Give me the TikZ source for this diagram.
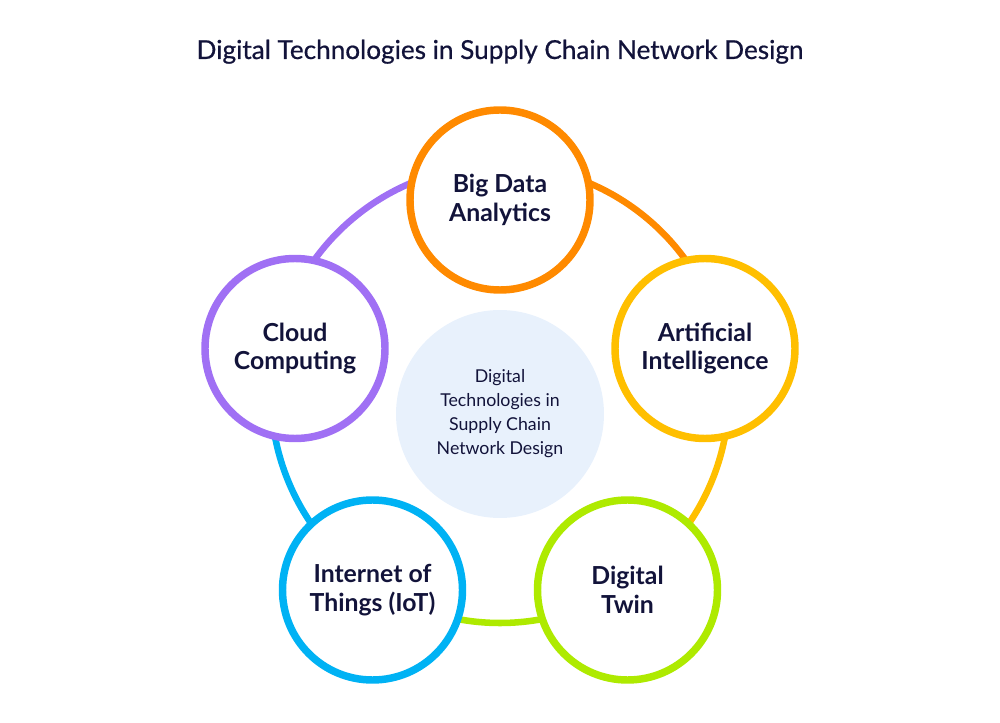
\documentclass[tikz,border=0pt]{standalone}
\usepackage{fontspec}
\setmainfont{Lato}
\newfontfamily\titlefont{Lato}[RawFeature={embolden=0.6}]
\usepackage{xcolor}
\definecolor{inkblue}{HTML}{12133A}
\definecolor{cbig}{HTML}{FF8A00}
\definecolor{cai}{HTML}{FFBF00}
\definecolor{ctwin}{HTML}{AEEA00}
\definecolor{ciot}{HTML}{00B2F4}
\definecolor{ccloud}{HTML}{A070F4}
\definecolor{hubbg}{HTML}{E8F1FC}
\usepackage{tikz}
\usetikzlibrary{positioning,calc}

\begin{document}
\begin{tikzpicture}[
  x=0.75pt, y=0.75pt,
  tech/.style={circle, draw, line width=5.6pt, fill=white, inner sep=0pt,
               minimum size=135pt, text=inkblue, align=center,
               font=\fontsize{18.6}{21.5}\selectfont\bfseries},
  hub/.style={circle, fill=hubbg, inner sep=0pt, minimum size=156pt,
              text=inkblue, align=center,
              font=\fontsize{13.3}{18}\selectfont},
  ring/.style={line width=4.9pt}
]
  \useasboundingbox (0,0) rectangle (1000,722);
  \node[anchor=base, text=inkblue, font=\titlefont\fontsize{19.6}{23}\selectfont] (title) at (500,663)
    {Digital Technologies in Supply Chain Network Design};
  \coordinate (ring) at (500,328);

  % ring segments, each in the colour of the circle it leaves
  \draw[ring, draw=cbig]   ($(ring)+(90:229)$)   arc[start angle=90,   end angle=12.5,  radius=229];
  \draw[ring, draw=cai]    ($(ring)+(12.5:229)$) arc[start angle=12.5, end angle=-57,   radius=229];
  \draw[ring, draw=ctwin]  ($(ring)+(-57:229)$)  arc[start angle=-57,  end angle=-123,  radius=229];
  \draw[ring, draw=ciot]   ($(ring)+(237:229)$)  arc[start angle=237,  end angle=167.5, radius=229];
  \draw[ring, draw=ccloud] ($(ring)+(167.5:229)$) arc[start angle=167.5, end angle=90,  radius=229];

  \node[hub] (hub) at (500,308) {Digital\\Technologies in\\Supply Chain\\Network Design};
  \node[tech, draw=cbig]   (bigdata) at (500,522)   {Big Data\\Analytics};
  \node[tech, draw=cai]    (ai)      at (705,373.5) {Artificial\\Intelligence};
  \node[tech, draw=ctwin]  (twin)    at (627.5,132) {Digital\\Twin};
  \node[tech, draw=ciot]   (iot)     at (372.5,132) {Internet of\\Things (IoT)};
  \node[tech, draw=ccloud] (cloud)   at (295,373.5) {Cloud\\Computing};
\end{tikzpicture}
\end{document}
